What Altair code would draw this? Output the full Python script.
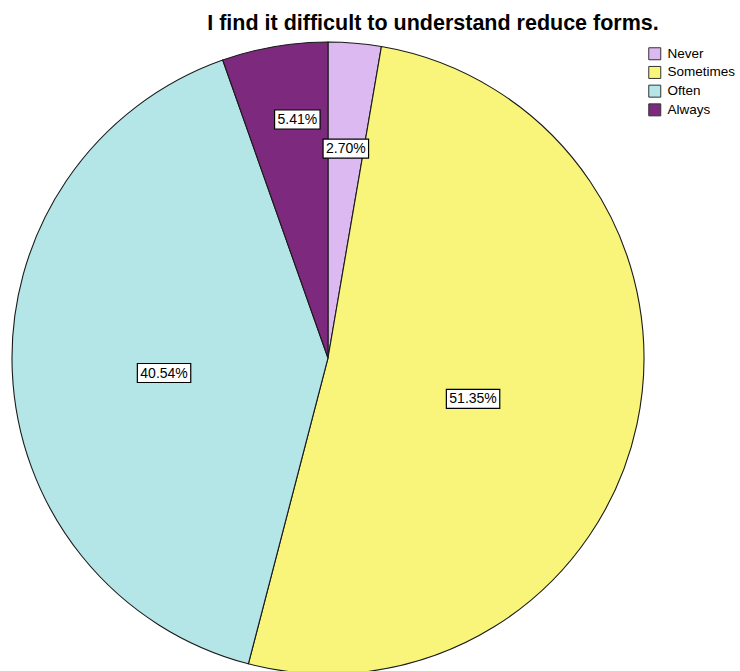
import altair as alt
import pandas as pd

# ---- data ----
categories = ["Never", "Sometimes", "Often", "Always"]
counts = [1, 19, 15, 2]          # N = 37 -> 2.70%, 51.35%, 40.54%, 5.41%
colors = ["#DCB9F1", "#F8F57A", "#B4E6E7", "#7D2A7E"]
title_text = "I find it difficult to understand reduce forms."

# ---- layout (not data) ----
CX, CY, R = 328, 358, 316
label_radius = [0.665, 0.477, 0.521, 0.761]   # label distance from centre, fraction of R
label_shift = [0.0, 3.6, -2.8, 2.4]           # label angle nudge, degrees

df = pd.DataFrame({
    "cat": categories,
    "value": counts,
    "idx": list(range(len(categories))),
    "lr": label_radius,
    "ls": label_shift,
})

base = alt.Chart(df)

pie = base.mark_arc(outerRadius=R, stroke="#1a1a1a", strokeWidth=1.1).encode(
    x=alt.value(CX),
    y=alt.value(CY),
    theta=alt.Theta("value:Q", stack=True),
    order=alt.Order("idx:Q"),
    color=alt.Color(
        "cat:N",
        scale=alt.Scale(domain=categories, range=colors),
        sort=categories,
        legend=alt.Legend(
            title=None,
            orient="none",
            legendX=648,
            legendY=47,
            symbolType="square",
            symbolSize=144,
            symbolStrokeColor="#333333",
            symbolStrokeWidth=1,
            symbolOpacity=1,
            labelFont="Liberation Sans",
            labelFontSize=13.5,
            labelColor="black",
            labelOffset=6,
            rowPadding=1.7,
        ),
    ),
)

lbl = base.transform_joinaggregate(
    total="sum(value)"
).transform_window(
    cum="sum(value)", sort=[alt.SortField("idx")], frame=[None, 0]
).transform_calculate(
    mid="(datum.cum - datum.value/2) / datum.total * 2 * PI + datum.ls * PI / 180",
    lx="sin(datum.mid) * datum.lr",
    ly="cos(datum.mid) * datum.lr",
    label="format(datum.value / datum.total, '.2%')",
    hw=f"(length(datum.label) * 7.9 + 6) / 2 / {R}",
    hh=f"9.5 / {R}",
    x1="datum.lx - datum.hw",
    x2="datum.lx + datum.hw",
    y1="datum.ly - datum.hh",
    y2="datum.ly + datum.hh",
)

xs = alt.Scale(domain=[-1, 1], range=[CX - R, CX + R])
ys = alt.Scale(domain=[-1, 1], range=[CY + R, CY - R])

boxes = lbl.mark_rect(fill="white", stroke="black", strokeWidth=1.2).encode(
    x=alt.X("x1:Q", scale=xs, axis=None),
    x2="x2:Q",
    y=alt.Y("y1:Q", scale=ys, axis=None),
    y2="y2:Q",
)

texts = lbl.mark_text(
    font="Liberation Sans", fontSize=14, color="black",
    align="center", baseline="middle", dy=0.5,
).encode(
    x=alt.X("lx:Q", scale=xs, axis=None),
    y=alt.Y("ly:Q", scale=ys, axis=None),
    text="label:N",
)

title = alt.Chart(pd.DataFrame({"t": [title_text]})).mark_text(
    font="Liberation Sans", fontSize=21.5, fontWeight="bold", color="black",
    align="center", baseline="alphabetic",
).encode(
    x=alt.value(433),
    y=alt.value(30),
    text="t:N",
)

chart = alt.layer(pie, boxes, texts, title).properties(
    width=740, height=671, padding=0, autosize="none", background="white"
).configure_view(stroke=None)

chart.save("out.html", embed_options={"renderer": "svg", "actions": False})
